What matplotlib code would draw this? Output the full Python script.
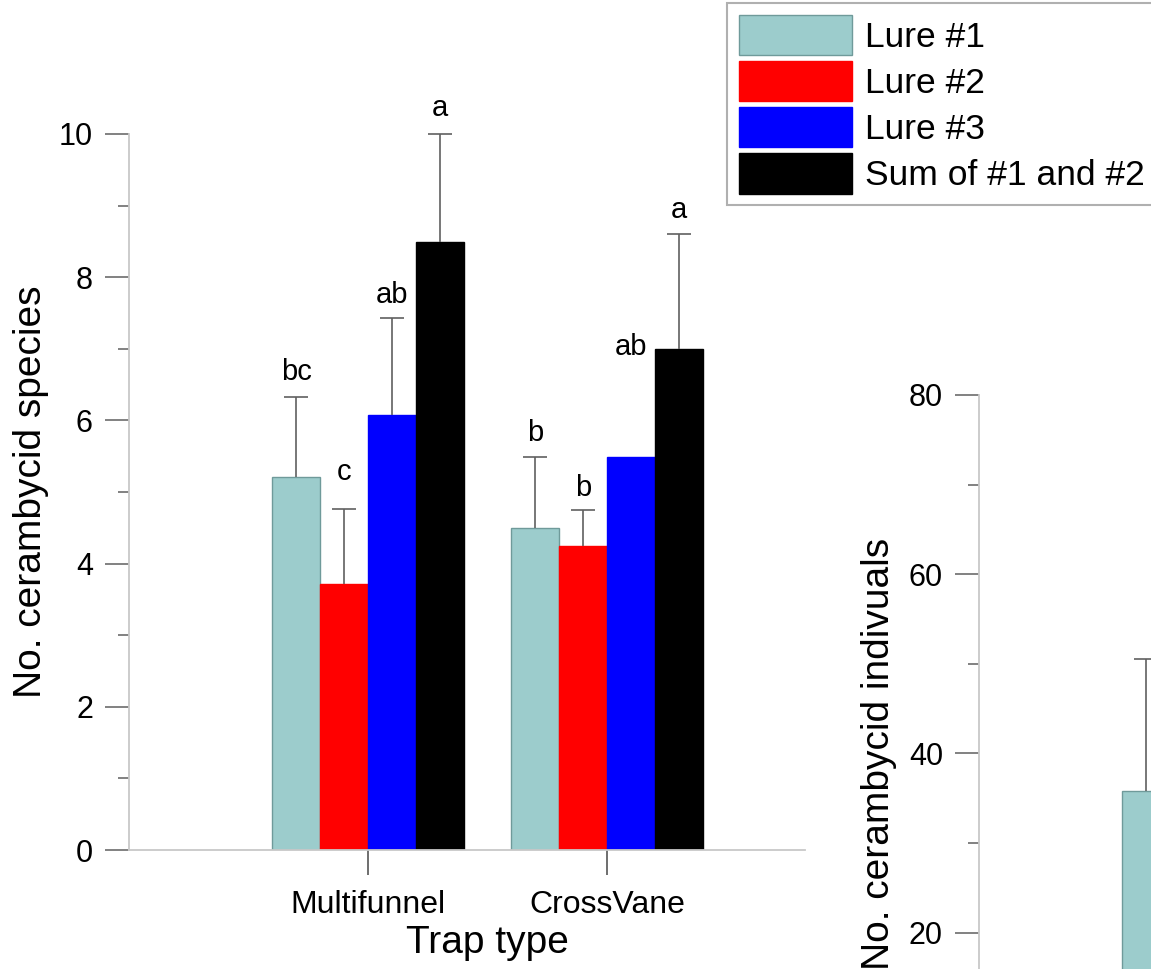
import numpy as np
import matplotlib.pyplot as plt
from matplotlib.ticker import MultipleLocator

plt.rcParams['font.family'] = ['Liberation Sans', 'DejaVu Sans']

traps = ['Multifunnel', 'CrossVane']
lures = ['Lure #1', 'Lure #2', 'Lure #3', 'Sum of #1 and #2']

# mean number of species per lure (rows = lure, cols = trap)
species = np.array([[5.21, 4.49],
                    [3.72, 4.25],
                    [6.07, 5.49],
                    [8.49, 6.99]])
species_err = np.array([[1.12, 1.00],
                        [1.04, 0.50],
                        [1.36, 0.00],
                        [1.51, 1.61]])
letters = [['bc', 'b'], ['c', 'b'], ['ab', 'ab'], ['a', 'a']]
letter_y = np.array([[6.56, 5.71],
                     [5.17, 4.95],
                     [7.64, 6.91],
                     [10.25, 8.83]])

# second panel (only the first bar is inside the picture)
indiv = np.array([35.8])
indiv_err = np.array([14.7])

colors = ['#9ccccc', '#ff0000', '#0000ff', '#000000']
edges = ['#6f9a9a', '#ff0000', '#0000ff', '#000000']

fig = plt.figure(figsize=(11.51, 9.69), dpi=100)
ax1 = fig.add_axes([0.1121, 0.1228, 0.5873, 0.739])
ax2 = fig.add_axes([0.8506, -0.1476, 0.5873, 0.74])

x = np.arange(len(traps))
w = 0.2
spine_c = '#c8c8c8'
tick_c = '#777777'


def style(ax, ymax, major, minor):
    for s in ['top', 'right']:
        ax.spines[s].set_visible(False)
    for s in ['left', 'bottom']:
        ax.spines[s].set_color(spine_c)
        ax.spines[s].set_linewidth(1.3)
    ax.set_xlim(-1.0, 1.828)
    ax.set_ylim(0, ymax)
    ax.yaxis.set_major_locator(MultipleLocator(major))
    ax.yaxis.set_minor_locator(MultipleLocator(minor))
    ax.tick_params(axis='y', which='major', length=17, width=1.3, color=tick_c,
                   labelsize=22, pad=9)
    ax.tick_params(axis='y', which='minor', length=8, width=1.3, color=tick_c)
    ax.set_xticks(x)
    ax.set_xticklabels(traps)
    ax.tick_params(axis='x', length=18, width=1.2, color='#555555',
                   labelsize=23, pad=11)


def up_err(ax, xs, ys, errs):
    # only the upper half of the error bar, no cap on top of the bar
    _, caps, _ = ax.errorbar(xs, ys, yerr=[np.zeros(len(errs)), errs],
                             fmt='none', ecolor='#606060', elinewidth=1.2,
                             capsize=8.5, capthick=1.2, clip_on=False)
    caps[0].set_visible(False)


handles = []
for i in range(len(lures)):
    b = ax1.bar(x - 0.4 + i * w, species[i], w, align='edge', color=colors[i],
                edgecolor=edges[i], linewidth=1.0, label=lures[i])
    handles.append(b)
    m = species_err[i] > 0
    up_err(ax1, x[m] - 0.3 + i * w, species[i][m], species_err[i][m])
    for j in range(len(traps)):
        ax1.text(x[j] - 0.3 + i * w, letter_y[i][j], letters[i][j],
                 ha='center', va='baseline', fontsize=21)

style(ax1, 10, 2, 1)
ax1.set_ylabel('No. cerambycid species', fontsize=28)
ax1.yaxis.set_label_coords(-0.118, 0.5)
ax1.set_xlabel('Trap type', fontsize=28)
ax1.xaxis.set_label_coords(0.530, -0.105)

ax2.bar(x[:1] - 0.4, indiv, w, align='edge', color=colors[0],
        edgecolor=edges[0], linewidth=1.0)
up_err(ax2, x[:1] - 0.3, indiv, indiv_err)
style(ax2, 80, 20, 10)
ax2.set_ylabel('No. cerambycid indivuals', fontsize=28)
ax2.yaxis.set_label_coords(-0.122, 0.5)

leg = fig.legend(handles=handles, labels=lures, loc='upper left',
                 bbox_to_anchor=(0.6316, 0.997), borderaxespad=0,
                 fontsize=25.5, handlelength=3.2, handleheight=1.37,
                 labelspacing=0.17, handletextpad=0.36, borderpad=0.33,
                 fancybox=False, framealpha=1)
leg.get_frame().set_edgecolor('#b0b0b0')
leg.get_frame().set_linewidth(1.5)

fig.savefig('out.png', dpi=100)
